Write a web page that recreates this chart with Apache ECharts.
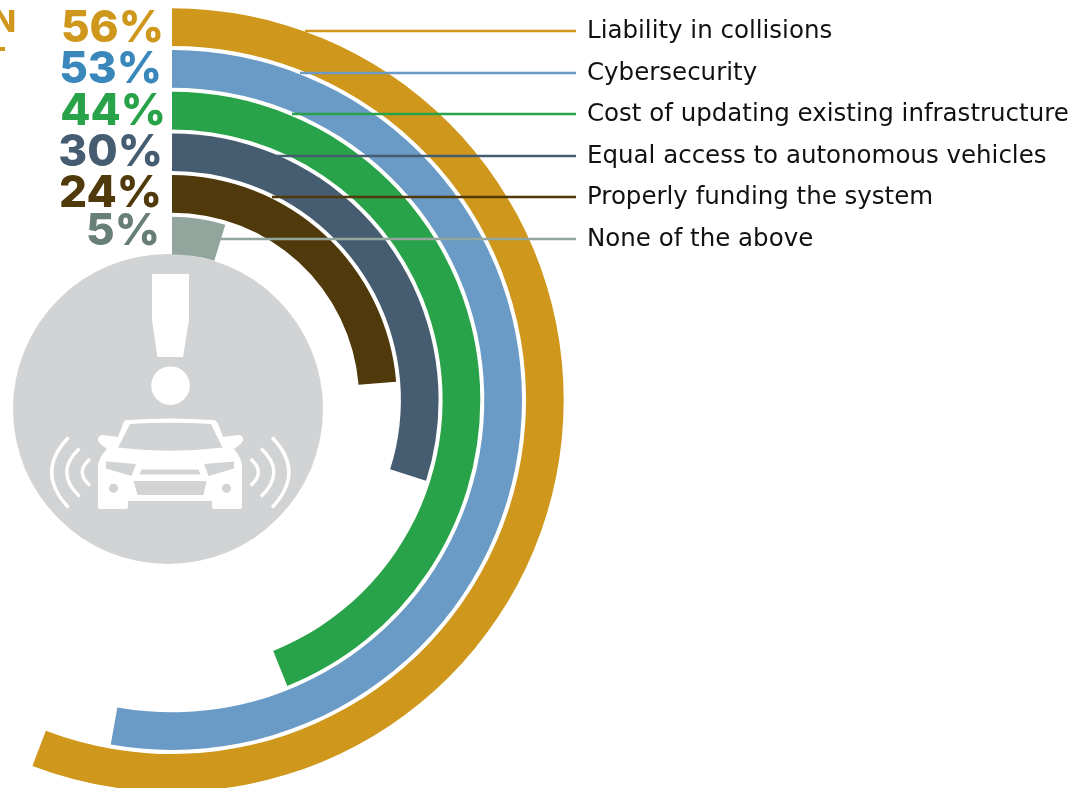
<!DOCTYPE html>
<html><head><meta charset="utf-8">
<style>html,body{margin:0;padding:0;background:#fff}#c{width:1090px;height:788px}</style>
<script src="https://cdn.jsdelivr.net/npm/echarts@6/dist/echarts.min.js"></script>
</head><body><div id="c"></div>
<script>
const categories = ['Liability in collisions','Cybersecurity','Cost of updating existing infrastructure','Equal access to autonomous vehicles','Properly funding the system','None of the above'];
const shareLabels = ['56%','53%','44%','30%','24%','5%'];
const shares = [55.8,52.8,43.9,29.9,23.7,4.7];

const barColors = ['#cf971b','#6a9ac6','#28a349','#465c70','#50390a','#93a69e'];
const pctColors = ['#cf971b','#3a87bc','#28a349','#465c70','#50390a','#677f74'];
const pctY = [29,70,112,153,194,232];
const pctRight = [164,162,166,163,162,160];
const leaderY = [31,73,114,156,197,239];
const leaderStart = [305,300,292,275,272,218];
const WHITE = '#fff', DISC = '#d1d3d4';

const wave = (x0,y0,cx,cy,x1,y1)=>`M${x0} ${y0}Q${cx} ${cy} ${x1} ${y1}`;
const mirror = x => 340.6 - x;
const waveDefs = [[68.5,437.5,35,472,68.5,507.5],[79.5,448.5,54,472,79.5,496.5],[90,459,74.5,472,90,485.5]];

const carBody = 'M127 420Q170 417 213 420Q216 420 218 424L223 437L238 435Q243 435 243 440Q243 443 234 449Q242 458 242 467L242 507Q242 509 240 509L214 509Q212 509 212 507L212 501L128 501L128 507Q128 509 126 509L100 509Q98 509 98 507L98 467Q98 458 107 449Q98 443 98 440Q98 435 103 435L118 437L123 424Q124 420 127 420Z';
const windshield = 'M130 424Q170 421.5 211 424L222.5 447.5Q170 454 118 447.5Z';
const headL = 'M106 461.5L136 464L131.5 476L106 468.5Z';
const headR = 'M234 461.5L204 464L208.5 476L234 468.5Z';
const grille = 'M141.5 469.5L198.5 469.5L200.5 474.5L139.5 474.5Z';
const lower = 'M133.5 481L206.5 481L203.5 495L137.5 495Z';

const fillPath = (d,fill)=>({type:'path',shape:{pathData:d},style:{fill}});
const strokePath = d=>({type:'path',shape:{pathData:d},style:{fill:'none',stroke:WHITE,lineWidth:3.4}});

const carIcon = ()=>({type:'group',children:[
  fillPath(carBody,WHITE),
  ...[windshield,headL,headR,grille,lower].map(d=>fillPath(d,DISC)),
  {type:'circle',shape:{cx:113.5,cy:488.3,r:4.5},style:{fill:DISC}},
  {type:'circle',shape:{cx:226.5,cy:488.3,r:4.5},style:{fill:DISC}},
  ...waveDefs.flatMap(w=>[
    strokePath(wave(...w)),
    strokePath(wave(mirror(w[0]),w[1],mirror(w[2]),w[3],mirror(w[4]),w[5]))
  ])
]});

const graphics = [
  {type:'circle',z:1,shape:{cx:168,cy:409,r:155},style:{fill:DISC}},
  {type:'polygon',z:2,shape:{points:[[152,274],[189,274],[189,320],[183,357],[157.5,357],[152,320]]},style:{fill:WHITE}},
  {type:'circle',z:2,shape:{cx:170.5,cy:385.7,r:19.3},style:{fill:WHITE}},
  {type:'text',z:5,style:{text:'N',x:16,y:23,align:'right',verticalAlign:'middle',fill:barColors[0],font:'800 30px "Inter"'}},
  {type:'rect',z:5,shape:{x:0,y:47,width:5,height:4},style:{fill:barColors[0]}},
  ...categories.flatMap((name,i)=>[
    {type:'line',z:6,shape:{x1:leaderStart[i],y1:leaderY[i],x2:576,y2:leaderY[i]},style:{stroke:barColors[i],lineWidth:2.5}},
    {type:'text',z:6,style:{text:name,x:587,y:leaderY[i]+1,align:'left',verticalAlign:'middle',fill:'#111',font:'400 24.5px "DejaVu Sans"'}},
    {type:'text',z:6,style:{text:shareLabels[i],x:pctRight[i],y:pctY[i],align:'right',verticalAlign:'middle',fill:pctColors[i],font:'800 44px "Inter"'}}
  ])
];

const chart = echarts.init(document.getElementById('c'),null,{renderer:'canvas'});
chart.setOption({
  animation:false,
  backgroundColor:'#fff',
  polar:{center:[172,400],radius:[143.5,393.7]},
  angleAxis:{type:'value',min:0,max:100,startAngle:90,clockwise:true,show:false},
  radiusAxis:{type:'category',data:categories.slice().reverse(),show:false},
  series:[{
    type:'bar',coordinateSystem:'polar',
    data:shares.map((v,i)=>({value:v,itemStyle:{color:barColors[i]}})).reverse(),
    barWidth:37.7,silent:true
  },{
    type:'custom',coordinateSystem:'none',z:4,silent:true,
    data:[[0]],renderItem:carIcon
  }],
  graphic:{elements:graphics}
});
</script></body></html>
